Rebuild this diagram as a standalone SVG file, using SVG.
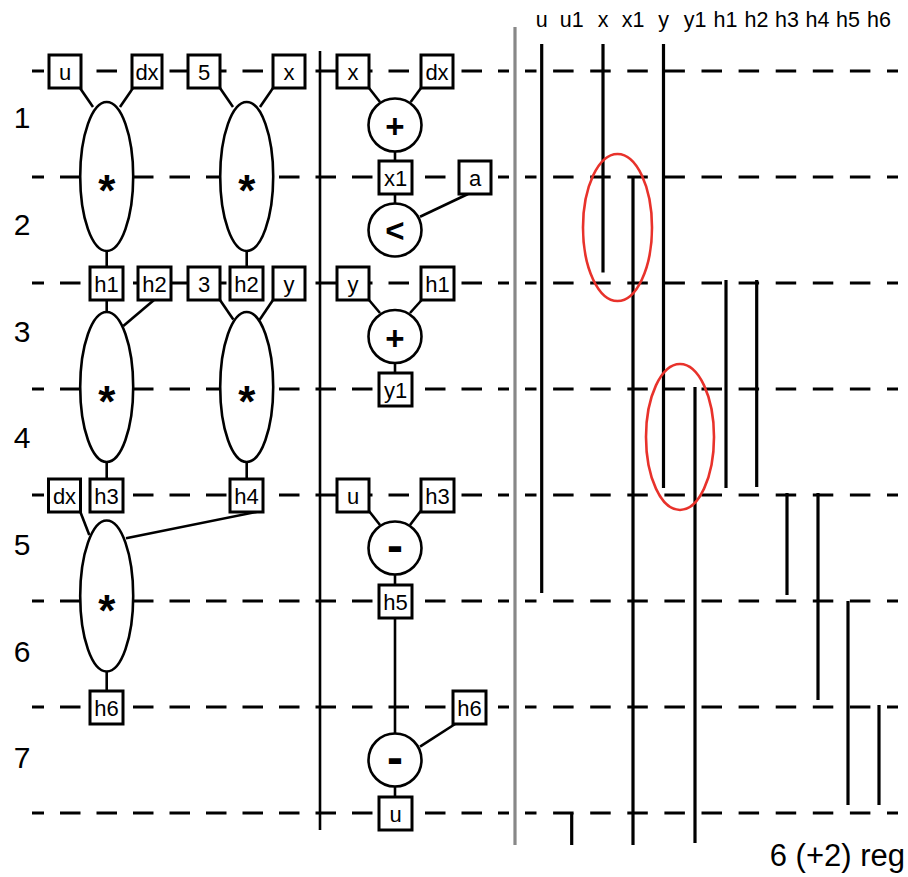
<svg xmlns="http://www.w3.org/2000/svg" width="908" height="877" viewBox="0 0 908 877">
<style>
  text { font-family: "Liberation Sans", Arial, sans-serif; fill: #000; }
  .lbl { font-size: 22px; text-anchor: middle; }
  .hdr { font-size: 21.5px; text-anchor: middle; }
  .row { font-size: 30px; text-anchor: middle; }
  .star { font-size: 44px; font-weight: bold; text-anchor: middle; }
  .opp { font-size: 33px; font-weight: bold; text-anchor: middle; }
  .opm { font-size: 48px; font-weight: bold; text-anchor: middle; }
  .box { fill: #fff; stroke: #000; stroke-width: 3; }
  .ell { fill: #fff; stroke: #000; stroke-width: 2.6; }
  .dashL { stroke: #000; stroke-width: 3; stroke-dasharray: 20.5 16; stroke-dashoffset: 8.5; fill: none; }
  .dashR { stroke: #000; stroke-width: 3; stroke-dasharray: 20.5 16.6; stroke-dashoffset: 9; fill: none; }
  .conn line { stroke: #000; stroke-width: 2.6; }
  .reg line { stroke: #000; stroke-width: 3.2; }
  .red { fill: none; stroke: #e8322b; stroke-width: 2.6; }
</style>

<g id="timelines">
  <line class="dashL" x1="32" y1="71" x2="509" y2="71"/>
  <line class="dashL" x1="32" y1="177" x2="509" y2="177"/>
  <line class="dashL" x1="32" y1="283" x2="509" y2="283"/>
  <line class="dashL" x1="32" y1="389" x2="509" y2="389"/>
  <line class="dashL" x1="32" y1="495" x2="509" y2="495"/>
  <line class="dashL" x1="32" y1="601" x2="509" y2="601"/>
  <line class="dashL" x1="32" y1="707" x2="509" y2="707"/>
  <line class="dashL" x1="32" y1="813" x2="509" y2="813"/>
  <line class="dashR" x1="525" y1="71" x2="898" y2="71"/>
  <line class="dashR" x1="525" y1="177" x2="898" y2="177"/>
  <line class="dashR" x1="525" y1="283" x2="898" y2="283"/>
  <line class="dashR" x1="525" y1="389" x2="898" y2="389"/>
  <line class="dashR" x1="525" y1="495" x2="898" y2="495"/>
  <line class="dashR" x1="525" y1="601" x2="898" y2="601"/>
  <line class="dashR" x1="525" y1="707" x2="898" y2="707"/>
  <line class="dashR" x1="525" y1="813" x2="898" y2="813"/>
</g>

<g id="separators">
  <line x1="320" y1="51" x2="320" y2="830" stroke="#000" stroke-width="2.6"/>
  <line x1="515" y1="27" x2="515" y2="845" stroke="#888" stroke-width="3.2"/>
</g>

<g id="row-numbers">
  <text class="row" x="22" y="128">1</text>
  <text class="row" x="22" y="235">2</text>
  <text class="row" x="22" y="342">3</text>
  <text class="row" x="22" y="448">4</text>
  <text class="row" x="22" y="555">5</text>
  <text class="row" x="22" y="662">6</text>
  <text class="row" x="22" y="768">7</text>
</g>

<g id="connectors" class="conn">
  <line x1="80" y1="88" x2="93" y2="107"/>
  <line x1="133" y1="88" x2="120" y2="107"/>
  <line x1="220" y1="88" x2="233" y2="107"/>
  <line x1="273" y1="88" x2="260" y2="107"/>
  <line x1="106.7" y1="250" x2="106.7" y2="268"/>
  <line x1="246.7" y1="250" x2="246.7" y2="268"/>
  <line x1="106.7" y1="299" x2="106.7" y2="313"/>
  <line x1="154" y1="300" x2="123.3" y2="326"/>
  <line x1="220" y1="300" x2="233.3" y2="319.5"/>
  <line x1="273" y1="300" x2="259.5" y2="320"/>
  <line x1="106.7" y1="461" x2="106.7" y2="480"/>
  <line x1="246.7" y1="461" x2="246.7" y2="480"/>
  <line x1="80" y1="511" x2="89.3" y2="535"/>
  <line x1="258.3" y1="511.5" x2="126" y2="538.3"/>
  <line x1="106.7" y1="671" x2="106.7" y2="692"/>
  <line x1="369" y1="88" x2="380" y2="102"/>
  <line x1="421" y1="88" x2="410.7" y2="102"/>
  <line x1="395" y1="150" x2="395" y2="162"/>
  <line x1="395" y1="193" x2="395" y2="204"/>
  <line x1="468" y1="194" x2="420" y2="216.7"/>
  <line x1="369" y1="300" x2="380" y2="313"/>
  <line x1="421.7" y1="300" x2="410" y2="313"/>
  <line x1="395" y1="362" x2="395" y2="374"/>
  <line x1="369" y1="511" x2="380" y2="525"/>
  <line x1="420.7" y1="511" x2="410" y2="525"/>
  <line x1="395" y1="574" x2="395" y2="586"/>
  <line x1="395" y1="617" x2="395" y2="734"/>
  <line x1="456.7" y1="723" x2="420" y2="746.7"/>
  <line x1="395" y1="786" x2="395" y2="798"/>
</g>

<!-- left column nodes -->
<g id="n-u-1"><rect class="box" x="49" y="55" width="32" height="33"/><text class="lbl" x="65" y="80">u</text></g>
<g id="n-dx-1"><rect class="box" x="132" y="55" width="30" height="33"/><text class="lbl" x="147" y="80">dx</text></g>
<g id="n-5"><rect class="box" x="188" y="55" width="32" height="33"/><text class="lbl" x="204" y="80">5</text></g>
<g id="n-x-1"><rect class="box" x="273" y="55" width="32" height="33"/><text class="lbl" x="289" y="80">x</text></g>
<g id="mul-1"><ellipse class="ell" cx="106.7" cy="176.5" rx="26.5" ry="74.5"/><text class="star" x="106.7" y="206">*</text></g>
<g id="mul-2"><ellipse class="ell" cx="246.7" cy="176.5" rx="26.5" ry="74.5"/><text class="star" x="246.7" y="206">*</text></g>
<g id="n-h1-1"><rect class="box" x="90" y="267" width="33" height="33"/><text class="lbl" x="106.5" y="292">h1</text></g>
<g id="n-h2-1"><rect class="box" x="138" y="267" width="33" height="33"/><text class="lbl" x="154.5" y="292">h2</text></g>
<g id="n-3"><rect class="box" x="188" y="267" width="32" height="33"/><text class="lbl" x="204" y="292">3</text></g>
<g id="n-h2-2"><rect class="box" x="230" y="267" width="33" height="33"/><text class="lbl" x="246.5" y="292">h2</text></g>
<g id="n-y-1"><rect class="box" x="273" y="267" width="32" height="33"/><text class="lbl" x="289" y="292">y</text></g>
<g id="mul-3"><ellipse class="ell" cx="106.7" cy="387" rx="26.5" ry="75"/><text class="star" x="106.7" y="417">*</text></g>
<g id="mul-4"><ellipse class="ell" cx="246.7" cy="387" rx="26.5" ry="75"/><text class="star" x="246.7" y="417">*</text></g>
<g id="n-dx-2"><rect class="box" x="48.5" y="479" width="32" height="33"/><text class="lbl" x="64.5" y="504">dx</text></g>
<g id="n-h3-1"><rect class="box" x="90" y="479" width="33" height="33"/><text class="lbl" x="106.5" y="504">h3</text></g>
<g id="n-h4"><rect class="box" x="230" y="479" width="33" height="33"/><text class="lbl" x="246.5" y="504">h4</text></g>
<g id="mul-5"><ellipse class="ell" cx="106.7" cy="596" rx="26.5" ry="75.5"/><text class="star" x="106.7" y="626">*</text></g>
<g id="n-h6-1"><rect class="box" x="90" y="691" width="33" height="33"/><text class="lbl" x="106.5" y="716">h6</text></g>

<!-- middle column nodes -->
<g id="m-x"><rect class="box" x="337" y="55" width="32" height="33"/><text class="lbl" x="353" y="80">x</text></g>
<g id="m-dx"><rect class="box" x="421" y="55" width="32" height="33"/><text class="lbl" x="437" y="80">dx</text></g>
<g id="add-1"><circle class="ell" cx="395" cy="125" r="26.5"/><text class="opp" x="395" y="138">+</text></g>
<g id="m-x1"><rect class="box" x="379" y="161" width="33" height="33"/><text class="lbl" x="395.5" y="186">x1</text></g>
<g id="m-a"><rect class="box" x="459" y="161" width="32" height="33"/><text class="lbl" x="475" y="186">a</text></g>
<g id="lt"><circle class="ell" cx="395" cy="230" r="26.5"/><text class="opp" x="395" y="242">&lt;</text></g>
<g id="m-y"><rect class="box" x="337" y="267" width="32" height="33"/><text class="lbl" x="353" y="292">y</text></g>
<g id="m-h1"><rect class="box" x="421" y="267" width="33" height="33"/><text class="lbl" x="437.5" y="292">h1</text></g>
<g id="add-2"><circle class="ell" cx="395" cy="336.5" r="26.5"/><text class="opp" x="395" y="349.5">+</text></g>
<g id="m-y1"><rect class="box" x="379" y="373" width="33" height="33"/><text class="lbl" x="395.5" y="398">y1</text></g>
<g id="m-u"><rect class="box" x="337" y="479" width="32" height="33"/><text class="lbl" x="353" y="504">u</text></g>
<g id="m-h3"><rect class="box" x="421" y="479" width="33" height="33"/><text class="lbl" x="437.5" y="504">h3</text></g>
<g id="sub-1"><circle class="ell" cx="395" cy="548" r="26.5"/><text class="opm" x="395" y="562">-</text></g>
<g id="m-h5"><rect class="box" x="379" y="585" width="33" height="33"/><text class="lbl" x="395.5" y="610">h5</text></g>
<g id="m-h6"><rect class="box" x="453" y="691" width="33" height="33"/><text class="lbl" x="469.5" y="716">h6</text></g>
<g id="sub-2"><circle class="ell" cx="395" cy="760" r="26.5"/><text class="opm" x="395" y="774">-</text></g>
<g id="m-u-out"><rect class="box" x="379" y="797" width="33" height="33"/><text class="lbl" x="395.5" y="822">u</text></g>

<!-- register lifetimes -->
<g id="reg-headers">
  <text class="hdr" x="541.7" y="27">u</text>
  <text class="hdr" x="571.7" y="27">u1</text>
  <text class="hdr" x="603" y="27">x</text>
  <text class="hdr" x="633" y="27">x1</text>
  <text class="hdr" x="663.5" y="27">y</text>
  <text class="hdr" x="695" y="27">y1</text>
  <text class="hdr" x="725.5" y="27">h1</text>
  <text class="hdr" x="756.5" y="27">h2</text>
  <text class="hdr" x="787" y="27">h3</text>
  <text class="hdr" x="817.5" y="27">h4</text>
  <text class="hdr" x="848" y="27">h5</text>
  <text class="hdr" x="879" y="27">h6</text>
</g>
<g id="registers" class="reg">
  <line x1="541.7" y1="44" x2="541.7" y2="593"/>
  <line x1="603" y1="44" x2="603" y2="272.5"/>
  <line x1="633" y1="176" x2="633" y2="845"/>
  <line x1="663.5" y1="44" x2="663.5" y2="488"/>
  <line x1="695" y1="387" x2="695" y2="843"/>
  <line x1="726" y1="280" x2="726" y2="488"/>
  <line x1="756.7" y1="280" x2="756.7" y2="487"/>
  <line x1="787" y1="493" x2="787" y2="595"/>
  <line x1="818" y1="493" x2="818" y2="700"/>
  <line x1="848" y1="601" x2="848" y2="805"/>
  <line x1="879" y1="705" x2="879" y2="805"/>
  <line x1="571.7" y1="813" x2="571.7" y2="845"/>
</g>
<g id="highlights">
  <ellipse class="red" cx="617.5" cy="227.5" rx="34.5" ry="73.5"/>
  <ellipse class="red" cx="680" cy="437" rx="34" ry="73"/>
</g>
<g id="caption">
  <text x="905" y="866" font-size="31" text-anchor="end">6 (+2) reg</text>
</g>
</svg>
